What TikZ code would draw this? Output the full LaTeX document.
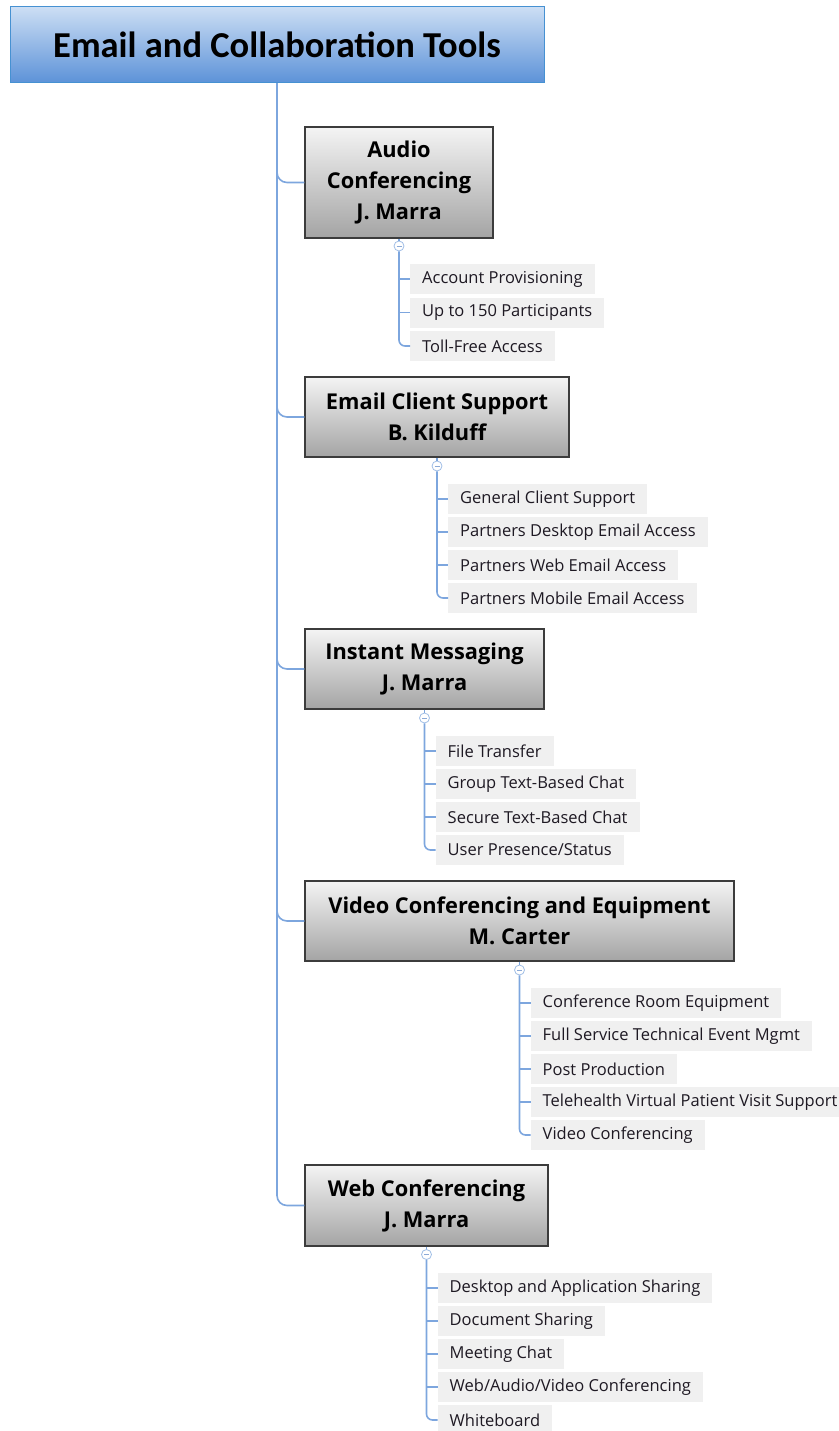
\documentclass[tikz,border=0pt]{standalone}
\usepackage{fontspec}
\setmainfont{Open Sans}
\newfontfamily\titlefont{Carlito}
\newfontfamily\headfont{Open Sans}
\begin{document}
\begin{tikzpicture}[x=1pt, y=-1pt,
    link/.style={draw={rgb,255:red,125;green,166;blue,222}, line width=1.6pt},
    rootbox/.style={draw={rgb,255:red,70;green,145;blue,210}, line width=1pt,
        top color={rgb,255:red,204;green,222;blue,244}, bottom color={rgb,255:red,92;green,146;blue,216},
        minimum width=534, minimum height=76, font=\titlefont\bfseries\fontsize{36.5}{40}\selectfont},
    headbox/.style={draw={rgb,255:red,60;green,60;blue,60}, line width=1.2pt,
        top color={rgb,255:red,244;green,244;blue,244}, bottom color={rgb,255:red,164;green,164;blue,164},
        align=center, font=\headfont\bfseries\fontsize{21.8}{31}\selectfont},
    toggle/.style={circle, draw={rgb,255:red,160;green,190;blue,230}, line width=0.8pt, fill=white,
        inner sep=0pt, minimum size=10pt,
        path picture={\draw[draw={rgb,255:red,140;green,170;blue,215}, line width=0.8pt]
            ([xshift=-2.5pt]path picture bounding box.center) -- ([xshift=2.5pt]path picture bounding box.center);}},
    itembox/.style={anchor=west, fill={rgb,255:red,240;green,240;blue,240}, minimum height=30,
        inner xsep=12pt, text={rgb,255:red,30;green,25;blue,35}, font=\fontsize{16.5}{19}\selectfont}]
    \useasboundingbox (0,0) rectangle (838,1431);

    \node[rootbox] (root) at (277,45) {Email and Collaboration Tools};

    \node[headbox, minimum width=188, minimum height=111] (audio) at (399,182.5) {Audio\\Conferencing\\J. Marra};
    \node[headbox, minimum width=264, minimum height=80] (email) at (437,417) {Email Client Support\\B. Kilduff};
    \node[headbox, minimum width=239, minimum height=80] (chat) at (424.5,669) {Instant Messaging\\J. Marra};
    \node[headbox, minimum width=429, minimum height=80] (video) at (519.5,921) {Video Conferencing and Equipment\\M. Carter};
    \node[headbox, minimum width=243, minimum height=81] (web) at (426.5,1205.5) {Web Conferencing\\J. Marra};

    \draw[link, rounded corners=10pt] (root.south) |- (audio.west);
    \draw[link, rounded corners=10pt] (root.south) |- (email.west);
    \draw[link, rounded corners=10pt] (root.south) |- (chat.west);
    \draw[link, rounded corners=10pt] (root.south) |- (video.west);
    \draw[link, rounded corners=10pt] (root.south) |- (web.west);

    \node[toggle] (audiot) at (399,246) {};
    \node[itembox] (audio1) at (410,279) {Account Provisioning};
    \node[itembox] (audio2) at (410,312.5) {Up to 150 Participants};
    \node[itembox] (audio3) at (410,346) {Toll-Free Access};
    \draw[link] (audio.south) -- (audiot.north);
    \draw[link, rounded corners=6pt] (audiot.south) |- (audio3.west);
    \draw[link] (audiot.south |- audio1.west) -- (audio1.west);
    \draw[link] (audiot.south |- audio2.west) -- (audio2.west);

    \node[toggle] (emailt) at (437,466) {};
    \node[itembox] (email1) at (448,499) {General Client Support};
    \node[itembox] (email2) at (448,532) {Partners Desktop Email Access};
    \node[itembox] (email3) at (448,565) {Partners Web Email Access};
    \node[itembox] (email4) at (448,598) {Partners Mobile Email Access};
    \draw[link] (email.south) -- (emailt.north);
    \draw[link, rounded corners=6pt] (emailt.south) |- (email4.west);
    \draw[link] (emailt.south |- email1.west) -- (email1.west);
    \draw[link] (emailt.south |- email2.west) -- (email2.west);
    \draw[link] (emailt.south |- email3.west) -- (email3.west);

    \node[toggle] (chatt) at (424.5,718) {};
    \node[itembox] (chat1) at (435.5,751) {File Transfer};
    \node[itembox] (chat2) at (435.5,784) {Group Text-Based Chat};
    \node[itembox] (chat3) at (435.5,817) {Secure Text-Based Chat};
    \node[itembox] (chat4) at (435.5,850) {User Presence/Status};
    \draw[link] (chat.south) -- (chatt.north);
    \draw[link, rounded corners=6pt] (chatt.south) |- (chat4.west);
    \draw[link] (chatt.south |- chat1.west) -- (chat1.west);
    \draw[link] (chatt.south |- chat2.west) -- (chat2.west);
    \draw[link] (chatt.south |- chat3.west) -- (chat3.west);

    \node[toggle] (videot) at (519.5,970) {};
    \node[itembox] (video1) at (530.5,1003) {Conference Room Equipment};
    \node[itembox] (video2) at (530.5,1036) {Full Service Technical Event Mgmt};
    \node[itembox] (video3) at (530.5,1069) {Post Production};
    \node[itembox] (video4) at (530.5,1102) {Telehealth Virtual Patient Visit Support};
    \node[itembox] (video5) at (530.5,1135) {Video Conferencing};
    \draw[link] (video.south) -- (videot.north);
    \draw[link, rounded corners=6pt] (videot.south) |- (video5.west);
    \draw[link] (videot.south |- video1.west) -- (video1.west);
    \draw[link] (videot.south |- video2.west) -- (video2.west);
    \draw[link] (videot.south |- video3.west) -- (video3.west);
    \draw[link] (videot.south |- video4.west) -- (video4.west);

    \node[toggle] (webt) at (426.5,1254.5) {};
    \node[itembox] (web1) at (437.5,1288) {Desktop and Application Sharing};
    \node[itembox] (web2) at (437.5,1321) {Document Sharing};
    \node[itembox] (web3) at (437.5,1354) {Meeting Chat};
    \node[itembox] (web4) at (437.5,1387) {Web/Audio/Video Conferencing};
    \node[itembox] (web5) at (437.5,1420) {Whiteboard};
    \draw[link] (web.south) -- (webt.north);
    \draw[link, rounded corners=6pt] (webt.south) |- (web5.west);
    \draw[link] (webt.south |- web1.west) -- (web1.west);
    \draw[link] (webt.south |- web2.west) -- (web2.west);
    \draw[link] (webt.south |- web3.west) -- (web3.west);
    \draw[link] (webt.south |- web4.west) -- (web4.west);
\end{tikzpicture}
\end{document}
